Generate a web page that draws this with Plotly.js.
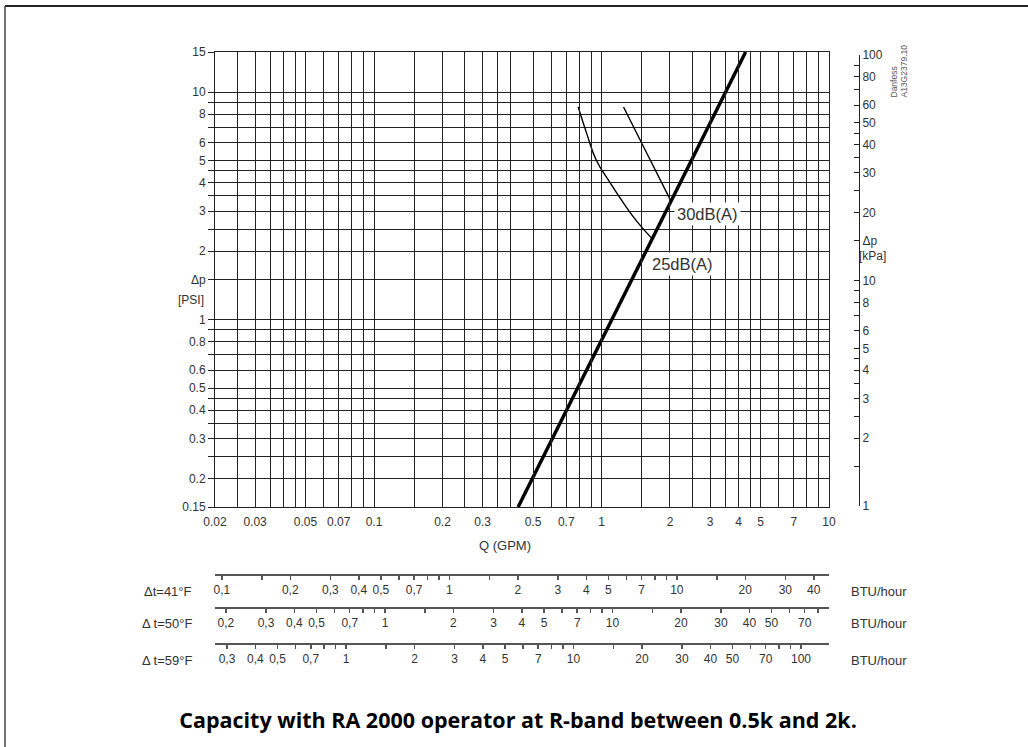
<!DOCTYPE html>
<html>
<head>
<meta charset="utf-8">
<script src="https://cdn.plot.ly/plotly-3.0.1.min.js"></script>
<style>html,body{margin:0;padding:0;background:#fff;}#chart{width:1028px;height:747px;}</style>
</head>
<body>
<div id="chart"></div>
<script>
// ---- data ----
const mainQ = [0.43, 1.36, 4.3];           // GPM
const mainDp = [0.15, 1.5, 15];            // PSI
const q25 = [0.79, 0.86, 0.95, 1.09, 1.25, 1.43, 1.66];
const dp25 = [8.6, 6.6, 5.0, 4.0, 3.25, 2.7, 2.28];
const q30 = [1.25, 1.58, 2.01];
const dp30 = [8.6, 5.4, 3.35];

const gridQ = [0.02,0.025,0.03,0.035,0.04,0.045,0.05,0.06,0.07,0.08,0.09,0.1,0.15,0.2,0.25,0.3,0.35,0.4,0.5,0.6,0.7,0.8,0.9,1,1.5,2,2.5,3,3.5,4,4.5,5,6,7,8,9,10];
const labelQ = [0.02,0.03,0.05,0.07,0.1,0.2,0.3,0.5,0.7,1,2,3,4,5,7,10];
const gridP = [0.15,0.2,0.25,0.3,0.35,0.4,0.45,0.5,0.6,0.7,0.8,0.9,1,1.5,2,2.5,3,3.5,4,4.5,5,6,7,8,9,10,15];
const labelP = {0.15:'0.15',0.2:'0.2',0.3:'0.3',0.4:'0.4',0.5:'0.5',0.6:'0.6',0.8:'0.8',1:'1',1.5:'Δp',2:'2',3:'3',4:'4',5:'5',6:'6',8:'8',10:'10',15:'15'};
const tickKPa = [1,1.5,2,2.5,3,3.5,4,4.5,5,6,7,8,9,10,15,20,25,30,35,40,45,50,60,70,80,90,100];
const labelKPa = {1:'1',2:'2',3:'3',4:'4',5:'5',6:'6',8:'8',10:'10',15:'Δp',20:'20',30:'30',40:'40',50:'50',60:'60',80:'80',100:'100'};

const row1Ticks = [0.1,0.15,0.2,0.3,0.4,0.5,0.6,0.7,0.8,0.9,1,1.5,2,3,4,5,6,7,8,9,10,15,20,30,40];
const row1Labels = [0.1,0.2,0.3,0.4,0.5,0.7,1,2,3,4,5,7,10,20,30,40];
const row2Ticks = [0.2,0.3,0.4,0.5,0.6,0.7,0.8,0.9,1,1.5,2,3,4,5,6,7,8,9,10,15,20,30,40,50,60,70,80,90];
const row2Labels = [0.2,0.3,0.4,0.5,0.7,1,2,3,4,5,7,10,20,30,40,50,70];
const row3Ticks = [0.3,0.4,0.5,0.6,0.7,0.8,0.9,1,1.5,2,3,4,5,6,7,8,9,10,15,20,30,40,50,60,70,80,90,100];
const row3Labels = [0.3,0.4,0.5,0.7,1,2,3,4,5,7,10,20,30,40,50,70,100];
const rowNames = ['Δt=41°F', 'Δ t=50°F', 'Δ t=59°F'];
const rowFactor = [4.667, 8.95, 13.28];    // scale value per GPM on each Δt row
const qRange = [0.02, 10];
const pRange = [0.15, 15];
const kPaRange = [1, 100];

// ---- helpers ----
const W = 1028, H = 747;
const fx = p => p / W;
const fy = p => 1 - p / H;
const L = Math.log10;
const comma = v => String(v).replace('.', ',');
const txt = (vals, labs, fmt) => vals.map(v => labs.includes(v) ? fmt(v) : '');

const ink = '#333';
const traces = [
  {x: mainQ, y: mainDp, mode: 'lines', line: {color: '#000', width: 3.5}, hoverinfo: 'skip'},
  {x: q25, y: dp25, mode: 'lines', line: {color: '#000', width: 1.4, shape: 'spline', smoothing: 1.3}, hoverinfo: 'skip'},
  {x: q30, y: dp30, mode: 'lines', line: {color: '#000', width: 1.4, shape: 'spline'}, hoverinfo: 'skip'},
  {x: [1], y: [10], xaxis: 'x', yaxis: 'y2', mode: 'markers', marker: {opacity: 0}, hoverinfo: 'skip'},
  {x: [rowFactor[0]], y: [1], xaxis: 'x2', yaxis: 'y', mode: 'markers', marker: {opacity: 0}, hoverinfo: 'skip'},
  {x: [rowFactor[1]], y: [1], xaxis: 'x3', yaxis: 'y', mode: 'markers', marker: {opacity: 0}, hoverinfo: 'skip'},
  {x: [rowFactor[2]], y: [1], xaxis: 'x4', yaxis: 'y', mode: 'markers', marker: {opacity: 0}, hoverinfo: 'skip'}
];

function rowAxis(i, ticks, labels, py) {
  const k = rowFactor[i];
  return {
    type: 'log', overlaying: 'x', anchor: 'free', position: fy(py), side: 'bottom',
    range: [L(qRange[0] * k), L(qRange[1] * k)],
    showline: true, linecolor: '#555', linewidth: 1.5,
    ticks: 'outside', ticklen: 4, tickwidth: 1.5, tickcolor: '#555',
    tickvals: ticks, ticktext: txt(ticks, labels, comma),
    showgrid: false, zeroline: false, fixedrange: true,
    tickfont: {size: 12, color: ink}
  };
}

const rowY = [574, 607, 643];
const labY = [591, 623, 660];

function note(px, py, text, xa, extra) {
  return Object.assign({xref: 'paper', yref: 'paper', x: fx(px), y: fy(py), xanchor: xa, yanchor: 'middle',
    text: text, showarrow: false, font: {size: 12, color: ink}}, extra || {});
}

const annotations = [
  note(505, 545, 'Q (GPM)', 'center', {font: {size: 13, color: ink}}),
  note(206, 300, '[PSI]', 'right'),
  note(857, 256, '[kPa]', 'left'),
  {xref: 'x', yref: 'y', x: L(q30[q30.length - 1]), y: L(dp30[dp30.length - 1]), xanchor: 'left', yanchor: 'top', xshift: 4, yshift: -2,
   text: '30dB(A)', showarrow: false, bgcolor: '#fff', borderpad: 2, font: {size: 16.5, color: ink}},
  {xref: 'x', yref: 'y', x: L(q25[q25.length - 1]), y: L(dp25[dp25.length - 1]), xanchor: 'left', yanchor: 'top', xshift: -3, yshift: -14,
   text: '25dB(A)', showarrow: false, bgcolor: '#fff', borderpad: 2, font: {size: 16.5, color: ink}},
  note(893, 100, 'Danfoss', 'center', {yanchor: 'bottom', textangle: -90, font: {size: 8.5, color: '#555'}}),
  note(903, 100, 'A13G2379.10', 'center', {yanchor: 'bottom', textangle: -90, font: {size: 8.5, color: '#555'}})
];
rowNames.forEach((n, i) => {
  annotations.push(note(194, labY[i], n, 'right', {font: {size: 13, color: ink}}));
  annotations.push(note(849, labY[i], 'BTU/hour', 'left', {font: {size: 13, color: ink}}));
});

const layout = {
  width: W, height: H, margin: {l: 0, r: 0, t: 0, b: 0},
  paper_bgcolor: '#fff', plot_bgcolor: 'rgba(0,0,0,0)', showlegend: false,
  font: {family: 'Liberation Sans, Arial, sans-serif', size: 12, color: ink},
  title: {text: '<b>Capacity with RA 2000 operator at R-band between 0.5k and 2k.</b>', x: fx(518), xanchor: 'center', y: fy(720), yanchor: 'middle',
          font: {family: 'Open Sans, sans-serif', size: 21.5, color: '#000'}},
  xaxis: {type: 'log', domain: [fx(215), fx(829)], range: [L(qRange[0]), L(qRange[1])], anchor: 'y',
          tickvals: gridQ, ticktext: txt(gridQ, labelQ, v => String(v)),
          showgrid: true, gridcolor: '#222', gridwidth: 1, showline: true, mirror: true, linecolor: '#222', linewidth: 1,
          ticks: '', zeroline: false, fixedrange: true, ticklabelstandoff: 4},
  yaxis: {type: 'log', domain: [fy(507), fy(52)], range: [L(pRange[0]), L(pRange[1])], anchor: 'x',
          tickvals: gridP, ticktext: gridP.map(v => labelP[v] || ''),
          showgrid: true, gridcolor: '#222', gridwidth: 1, showline: true, mirror: true, linecolor: '#222', linewidth: 1,
          ticks: 'outside', ticklen: 6, tickcolor: '#222', zeroline: false, fixedrange: true},
  yaxis2: {type: 'log', domain: [fy(506), fy(55)], range: [L(kPaRange[0]), L(kPaRange[1])], anchor: 'free', position: fx(859), side: 'right',
           tickvals: tickKPa, ticktext: tickKPa.map(v => labelKPa[v] || ''),
           showgrid: false, showline: true, linecolor: '#222', linewidth: 1, ticks: 'inside', ticklen: 5, tickcolor: '#222',
           zeroline: false, fixedrange: true},
  xaxis2: rowAxis(0, row1Ticks, row1Labels, rowY[0]),
  xaxis3: rowAxis(1, row2Ticks, row2Labels, rowY[1]),
  xaxis4: rowAxis(2, row3Ticks, row3Labels, rowY[2]),
  annotations: annotations,
  shapes: [
    {type: 'line', xref: 'paper', yref: 'paper', x0: fx(5), x1: 1, y0: fy(6), y1: fy(6), line: {color: '#222', width: 2}},
    {type: 'line', xref: 'paper', yref: 'paper', x0: fx(5), x1: fx(5), y0: fy(6), y1: 0, line: {color: '#444', width: 1.5}}
  ]
};

Plotly.newPlot('chart', traces, layout, {displayModeBar: false, staticPlot: true});
</script>
</body>
</html>
